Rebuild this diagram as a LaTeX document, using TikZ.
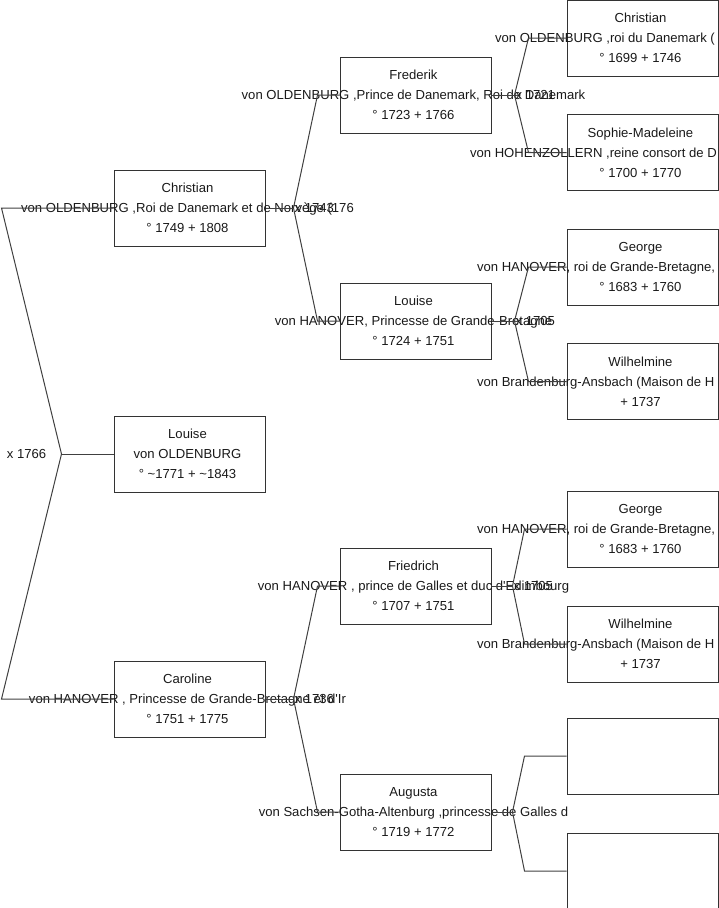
\documentclass[tikz,border=0pt]{standalone}
\usepackage{fontspec}
\setmainfont{Liberation Sans}
\usetikzlibrary{positioning,calc}
% a line of text cut off by the right edge of the chart
\newcommand{\clipline}[2]{\makebox[#1][l]{#2}}

\begin{document}
\begin{tikzpicture}[
  x=1pt,y=-1pt,
  font=\fontsize{13.1}{20}\selectfont,
  pbox/.style ={draw=black!80,line width=1pt,
                minimum width=151pt,minimum height=76pt,inner sep=0pt},
  ptext/.style={align=center,text=black!90,inner sep=0pt,xshift=-2pt},
  link/.style ={draw=black!75,line width=1pt},
  mlab/.style ={text=black!90,inner sep=1pt},
]
\useasboundingbox (0,0) rectangle (719,908);
\clip (0,0) rectangle (719,908);

% ===================== Louise and her parents ==========================
\node[pbox,label={[ptext]center:{Louise\\von OLDENBURG\\
  ° \textasciitilde1771 + \textasciitilde1843}}] (louise) at (189.5,454) {};

\node[pbox,label={[ptext]center:{Christian\\
  von OLDENBURG ,Roi de Danemark et de Norvège (176\\° 1749 + 1808}}]
  (christian) at (189.5,208) {};

\node[pbox,label={[ptext]center:{Caroline\\
  von HANOVER , Princesse de Grande-Bretagne et d\textquotesingle Ir\\
  ° 1751 + 1775}}]
  (caroline) at (189.5,699) {};

% ===================== Grandparents =====================================
\node[pbox,label={[ptext]center:{Frederik\\
  von OLDENBURG ,Prince de Danemark, Roi de Danemark\\° 1723 + 1766}}]
  (frederik) at (415.5,95) {};

\node[pbox,label={[ptext]center:{Louise\\
  von HANOVER, Princesse de Grande-Bretagne\\° 1724 + 1751}}]
  (louiseH) at (415.5,321) {};

\node[pbox,label={[ptext]center:{Friedrich\\
  von HANOVER , prince de Galles et duc d\textquotesingle Edimbourg\\
  ° 1707 + 1751}}]
  (friedrich) at (415.5,586) {};

\node[pbox,label={[ptext]center:{Augusta\\
  von Sachsen-Gotha-Altenburg ,princesse de Galles d\\° 1719 + 1772}}]
  (augusta) at (415.5,812) {};

% ===================== Great-grandparents ===============================
\node[pbox,label={[ptext]center:{Christian\\
  \clipline{291pt}{von OLDENBURG ,roi du Danemark (}\\° 1699 + 1746}}]
  (christianO) at (642.5,38) {};

\node[pbox,below=37.5pt of christianO,label={[ptext]center:{Sophie-Madeleine\\
  \clipline{341pt}{von HOHENZOLLERN ,reine consort de D}\\° 1700 + 1770}}]
  (sophie) {};

\node[pbox,below=37.5pt of sophie,label={[ptext]center:{George\\
  \clipline{327pt}{von HANOVER, roi de Grande-Bretagne,}\\° 1683 + 1760}}]
  (georgeA) {};

\node[pbox,below=37.5pt of georgeA,label={[ptext]center:{Wilhelmine\\
  \clipline{327pt}{von Brandenburg-Ansbach (Maison de H}\\+ 1737}}]
  (wilhelmineA) {};

\node[pbox,label={[ptext]center:{George\\
  \clipline{327pt}{von HANOVER, roi de Grande-Bretagne,}\\° 1683 + 1760}}]
  (georgeB) at (642.5,529) {};

\node[pbox,below=38pt of georgeB,label={[ptext]center:{Wilhelmine\\
  \clipline{327pt}{von Brandenburg-Ansbach (Maison de H}\\+ 1737}}]
  (wilhelmineB) {};

% unknown parents of Augusta: empty boxes
\node[pbox] (augFather) at (642.5,756) {};
\node[pbox,below=38pt of augFather] (augMother) {};

% ===================== Couples (forks) ==================================
% Louise <- Christian x Caroline
\draw[link] (louise.west) -- ++(-52,0) coordinate (fL);
\draw[link] (christian.west) -- ++(-112,0) -- (fL)
  -- ($(caroline.west)+(-112,0)$) -- (caroline.west);
\node[mlab,anchor=east] (m1766) at ($(fL)+(-14,0)$) {x 1766};

% Christian <- Frederik x Louise
\draw[link] (christian.east) -- ++(28,0) coordinate (fC);
\draw[link] (frederik.west) -- ++(-22,0) -- (fC)
  -- ($(louiseH.west)+(-22,0)$) -- (louiseH.west);
\node[mlab,anchor=west] (m1743) at (fC) {x 1743};

% Caroline <- Friedrich x Augusta
\draw[link] (caroline.east) -- ++(28,0) coordinate (fA);
\draw[link] (friedrich.west) -- ++(-22,0) -- (fA)
  -- ($(augusta.west)+(-22,0)$) -- (augusta.west);
\node[mlab,anchor=west] (m1736) at (fA) {x 1736};

% Frederik <- Christian x Sophie-Madeleine
\draw[link] (frederik.east) -- ++(23,0) coordinate (fF);
\draw[link] (christianO.west) -- ++(-38,0) -- (fF)
  -- ($(sophie.west)+(-38,0)$) -- (sophie.west);
\node[mlab,anchor=west] (m1721) at (fF) {x 1721};

% Louise <- George x Wilhelmine
\draw[link] (louiseH.east) -- ++(23,0) coordinate (fH);
\draw[link] (georgeA.west) -- ++(-38,0) -- (fH)
  -- ($(wilhelmineA.west)+(-38,0)$) -- (wilhelmineA.west);
\node[mlab,anchor=west] (m1705a) at (fH) {x 1705};

% Friedrich <- George x Wilhelmine
\draw[link] (friedrich.east) -- ++(21,0) coordinate (fR);
\draw[link] (georgeB.west) -- ++(-42,0) -- (fR)
  -- ($(wilhelmineB.west)+(-42,0)$) -- (wilhelmineB.west);
\node[mlab,anchor=west] (m1705b) at (fR) {x 1705};

% Augusta <- (unknown)
\draw[link] (augusta.east) -- ++(21,0) coordinate (fG);
\draw[link] (augFather.west) -- ++(-42,0) -- (fG)
  -- ($(augMother.west)+(-42,0)$) -- (augMother.west);

\end{tikzpicture}
\end{document}
